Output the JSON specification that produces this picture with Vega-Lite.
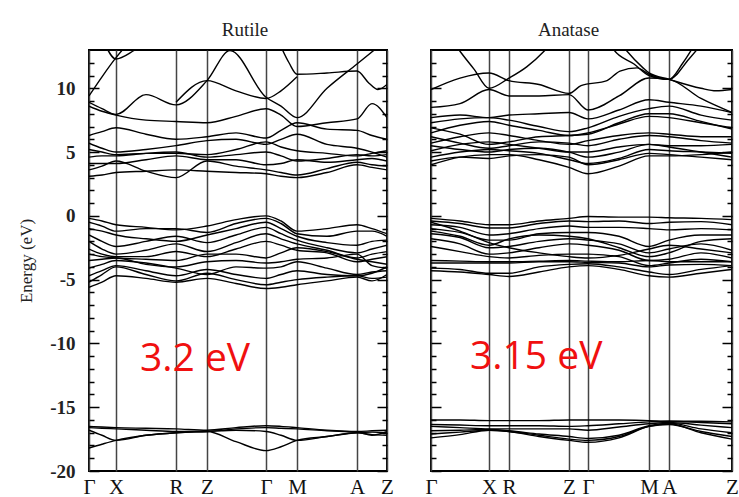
{
"$schema": "https://vega.github.io/schema/vega-lite/v6.json",
"background": "white",
"padding": {"left": 16, "top": 20, "right": 0, "bottom": 0},
"spacing": 28,
"config": {"view": {"stroke": "#000", "strokeWidth": 2}, "font": "Liberation Serif"},
"datasets": {
"rut": [
{"b":"c1","k":0,"e":9.4},{"b":"c1","k":13,"e":10.9},{"b":"c1","k":27,"e":12.4},{"b":"c1","k":40,"e":13.6},
{"b":"c2","k":15,"e":13.6},{"b":"c2","k":27,"e":12.3},{"b":"c2","k":46,"e":13.0},{"b":"c2","k":60,"e":13.6},
{"b":"c3","k":0,"e":8.9},{"b":"c3","k":13,"e":8.4},{"b":"c3","k":27,"e":7.95},{"b":"c3","k":57,"e":9.5},{"b":"c3","k":87,"e":8.7},{"b":"c3","k":118,"e":10.6},{"b":"c3","k":141,"e":12.95},{"b":"c3","k":177,"e":9.3},{"b":"c3","k":192,"e":8.6},{"b":"c3","k":208,"e":7.7},{"b":"c3","k":238,"e":10.0},{"b":"c3","k":268,"e":11.9},{"b":"c3","k":290,"e":13.3},
{"b":"c4","k":190,"e":13.6},{"b":"c4","k":200,"e":12.0},{"b":"c4","k":208,"e":11.1},{"b":"c4","k":238,"e":11.2},{"b":"c4","k":268,"e":11.35},{"b":"c4","k":280,"e":10.4},{"b":"c4","k":289,"e":9.9},{"b":"c4","k":298,"e":10.3},
{"b":"c13","k":87,"e":8.9},{"b":"c13","k":118,"e":10.6},{"b":"c13","k":147,"e":9.8},{"b":"c13","k":177,"e":9.2},{"b":"c13","k":192,"e":9.8},{"b":"c13","k":208,"e":10.9},
{"b":"c5","k":0,"e":8.6},{"b":"c5","k":13,"e":8.2},{"b":"c5","k":27,"e":7.9},{"b":"c5","k":57,"e":7.5},{"b":"c5","k":87,"e":7.4},{"b":"c5","k":118,"e":7.3},{"b":"c5","k":147,"e":7.8},{"b":"c5","k":177,"e":8.4},{"b":"c5","k":192,"e":7.9},{"b":"c5","k":208,"e":7.0},{"b":"c5","k":238,"e":7.3},{"b":"c5","k":268,"e":7.6},{"b":"c5","k":283,"e":8.8},{"b":"c5","k":298,"e":7.7},
{"b":"c6","k":0,"e":6.3},{"b":"c6","k":13,"e":6.6},{"b":"c6","k":27,"e":6.9},{"b":"c6","k":57,"e":6.4},{"b":"c6","k":87,"e":6.0},{"b":"c6","k":118,"e":6.2},{"b":"c6","k":147,"e":6.5},{"b":"c6","k":177,"e":6.1},{"b":"c6","k":192,"e":6.7},{"b":"c6","k":208,"e":7.3},{"b":"c6","k":238,"e":6.8},{"b":"c6","k":268,"e":6.7},{"b":"c6","k":283,"e":6.3},{"b":"c6","k":298,"e":6.0},
{"b":"c7","k":0,"e":5.7},{"b":"c7","k":13,"e":5.3},{"b":"c7","k":27,"e":5.0},{"b":"c7","k":57,"e":5.2},{"b":"c7","k":87,"e":5.5},{"b":"c7","k":118,"e":5.9},{"b":"c7","k":147,"e":6.0},{"b":"c7","k":177,"e":5.6},{"b":"c7","k":192,"e":6.0},{"b":"c7","k":208,"e":6.4},{"b":"c7","k":238,"e":5.6},{"b":"c7","k":268,"e":5.3},{"b":"c7","k":283,"e":5.0},{"b":"c7","k":298,"e":4.6},
{"b":"c8","k":0,"e":5.2},{"b":"c8","k":13,"e":5.0},{"b":"c8","k":27,"e":4.8},{"b":"c8","k":57,"e":4.9},{"b":"c8","k":87,"e":4.9},{"b":"c8","k":118,"e":4.8},{"b":"c8","k":147,"e":5.2},{"b":"c8","k":177,"e":5.8},{"b":"c8","k":192,"e":5.4},{"b":"c8","k":208,"e":5.1},{"b":"c8","k":238,"e":4.9},{"b":"c8","k":268,"e":4.7},{"b":"c8","k":283,"e":4.9},{"b":"c8","k":298,"e":5.1},
{"b":"c9","k":0,"e":4.6},{"b":"c9","k":13,"e":4.7},{"b":"c9","k":27,"e":4.7},{"b":"c9","k":57,"e":4.9},{"b":"c9","k":87,"e":5.0},{"b":"c9","k":118,"e":4.6},{"b":"c9","k":147,"e":4.8},{"b":"c9","k":177,"e":5.0},{"b":"c9","k":192,"e":4.7},{"b":"c9","k":208,"e":4.3},{"b":"c9","k":238,"e":4.5},{"b":"c9","k":268,"e":4.8},{"b":"c9","k":283,"e":4.7},{"b":"c9","k":298,"e":4.8},
{"b":"c10","k":0,"e":4.1},{"b":"c10","k":13,"e":4.1},{"b":"c10","k":27,"e":4.1},{"b":"c10","k":57,"e":4.4},{"b":"c10","k":87,"e":4.7},{"b":"c10","k":118,"e":4.4},{"b":"c10","k":147,"e":4.4},{"b":"c10","k":177,"e":4.0},{"b":"c10","k":192,"e":4.1},{"b":"c10","k":208,"e":4.4},{"b":"c10","k":238,"e":4.2},{"b":"c10","k":268,"e":4.4},{"b":"c10","k":283,"e":4.5},{"b":"c10","k":298,"e":4.3},
{"b":"c11","k":0,"e":3.6},{"b":"c11","k":13,"e":3.9},{"b":"c11","k":27,"e":4.3},{"b":"c11","k":57,"e":3.5},{"b":"c11","k":87,"e":3.0},{"b":"c11","k":118,"e":4.3},{"b":"c11","k":147,"e":3.9},{"b":"c11","k":177,"e":3.6},{"b":"c11","k":192,"e":3.4},{"b":"c11","k":208,"e":3.2},{"b":"c11","k":238,"e":3.7},{"b":"c11","k":268,"e":4.2},{"b":"c11","k":283,"e":4.0},{"b":"c11","k":298,"e":3.9},
{"b":"c12","k":0,"e":3.1},{"b":"c12","k":13,"e":3.2},{"b":"c12","k":27,"e":3.4},{"b":"c12","k":57,"e":3.5},{"b":"c12","k":87,"e":3.6},{"b":"c12","k":118,"e":3.5},{"b":"c12","k":147,"e":3.4},{"b":"c12","k":177,"e":3.3},{"b":"c12","k":192,"e":3.1},{"b":"c12","k":208,"e":3.0},{"b":"c12","k":238,"e":3.4},{"b":"c12","k":268,"e":4.0},{"b":"c12","k":283,"e":3.8},{"b":"c12","k":298,"e":3.6},
{"b":"v1","k":0,"e":-0.2},{"b":"v1","k":13,"e":-0.4},{"b":"v1","k":27,"e":-0.7},{"b":"v1","k":57,"e":-0.9},{"b":"v1","k":87,"e":-1.1},{"b":"v1","k":118,"e":-0.8},{"b":"v1","k":147,"e":-0.3},{"b":"v1","k":177,"e":0.0},{"b":"v1","k":192,"e":-0.4},{"b":"v1","k":208,"e":-1.2},{"b":"v1","k":238,"e":-1.0},{"b":"v1","k":268,"e":-0.7},{"b":"v1","k":283,"e":-1.0},{"b":"v1","k":298,"e":-1.4},
{"b":"v2","k":0,"e":-0.5},{"b":"v2","k":13,"e":-0.8},{"b":"v2","k":27,"e":-1.2},{"b":"v2","k":57,"e":-1.0},{"b":"v2","k":87,"e":-1.0},{"b":"v2","k":118,"e":-1.3},{"b":"v2","k":147,"e":-0.6},{"b":"v2","k":177,"e":-0.2},{"b":"v2","k":192,"e":-0.6},{"b":"v2","k":208,"e":-1.4},{"b":"v2","k":238,"e":-1.6},{"b":"v2","k":268,"e":-1.2},{"b":"v2","k":283,"e":-1.2},{"b":"v2","k":298,"e":-1.6},
{"b":"v3","k":0,"e":-1.0},{"b":"v3","k":13,"e":-1.2},{"b":"v3","k":27,"e":-1.5},{"b":"v3","k":57,"e":-1.8},{"b":"v3","k":87,"e":-2.0},{"b":"v3","k":118,"e":-1.5},{"b":"v3","k":147,"e":-1.0},{"b":"v3","k":177,"e":-0.5},{"b":"v3","k":192,"e":-1.0},{"b":"v3","k":208,"e":-1.6},{"b":"v3","k":238,"e":-2.1},{"b":"v3","k":268,"e":-2.3},{"b":"v3","k":283,"e":-2.0},{"b":"v3","k":298,"e":-1.9},
{"b":"v4","k":0,"e":-1.5},{"b":"v4","k":13,"e":-2.0},{"b":"v4","k":27,"e":-2.4},{"b":"v4","k":57,"e":-2.0},{"b":"v4","k":87,"e":-1.6},{"b":"v4","k":118,"e":-2.1},{"b":"v4","k":147,"e":-1.5},{"b":"v4","k":177,"e":-0.9},{"b":"v4","k":192,"e":-1.4},{"b":"v4","k":208,"e":-1.9},{"b":"v4","k":238,"e":-2.5},{"b":"v4","k":268,"e":-2.9},{"b":"v4","k":283,"e":-2.6},{"b":"v4","k":298,"e":-2.3},
{"b":"v5","k":0,"e":-2.0},{"b":"v5","k":13,"e":-2.6},{"b":"v5","k":27,"e":-3.0},{"b":"v5","k":57,"e":-2.7},{"b":"v5","k":87,"e":-2.2},{"b":"v5","k":118,"e":-2.8},{"b":"v5","k":147,"e":-2.1},{"b":"v5","k":177,"e":-1.4},{"b":"v5","k":192,"e":-1.8},{"b":"v5","k":208,"e":-2.2},{"b":"v5","k":238,"e":-2.7},{"b":"v5","k":268,"e":-3.3},{"b":"v5","k":283,"e":-3.0},{"b":"v5","k":298,"e":-2.8},
{"b":"v6","k":0,"e":-2.6},{"b":"v6","k":13,"e":-3.0},{"b":"v6","k":27,"e":-3.2},{"b":"v6","k":57,"e":-3.2},{"b":"v6","k":87,"e":-2.8},{"b":"v6","k":118,"e":-3.2},{"b":"v6","k":147,"e":-2.6},{"b":"v6","k":177,"e":-2.0},{"b":"v6","k":192,"e":-2.3},{"b":"v6","k":208,"e":-2.7},{"b":"v6","k":238,"e":-2.9},{"b":"v6","k":268,"e":-3.6},{"b":"v6","k":283,"e":-3.4},{"b":"v6","k":298,"e":-3.2},
{"b":"v7","k":0,"e":-3.0},{"b":"v7","k":13,"e":-3.2},{"b":"v7","k":27,"e":-3.3},{"b":"v7","k":57,"e":-3.4},{"b":"v7","k":87,"e":-3.5},{"b":"v7","k":118,"e":-3.0},{"b":"v7","k":147,"e":-3.0},{"b":"v7","k":177,"e":-3.3},{"b":"v7","k":192,"e":-2.9},{"b":"v7","k":208,"e":-2.5},{"b":"v7","k":238,"e":-2.8},{"b":"v7","k":268,"e":-3.4},{"b":"v7","k":283,"e":-3.6},{"b":"v7","k":298,"e":-3.8},
{"b":"v8","k":0,"e":-3.5},{"b":"v8","k":13,"e":-3.4},{"b":"v8","k":27,"e":-3.3},{"b":"v8","k":57,"e":-3.8},{"b":"v8","k":87,"e":-4.0},{"b":"v8","k":118,"e":-3.6},{"b":"v8","k":147,"e":-3.5},{"b":"v8","k":177,"e":-3.7},{"b":"v8","k":192,"e":-3.6},{"b":"v8","k":208,"e":-3.4},{"b":"v8","k":238,"e":-3.3},{"b":"v8","k":268,"e":-3.0},{"b":"v8","k":283,"e":-3.9},{"b":"v8","k":298,"e":-4.1},
{"b":"v9","k":0,"e":-4.1},{"b":"v9","k":13,"e":-3.8},{"b":"v9","k":27,"e":-3.5},{"b":"v9","k":57,"e":-3.7},{"b":"v9","k":87,"e":-4.1},{"b":"v9","k":118,"e":-4.6},{"b":"v9","k":147,"e":-4.0},{"b":"v9","k":177,"e":-4.1},{"b":"v9","k":192,"e":-4.0},{"b":"v9","k":208,"e":-3.6},{"b":"v9","k":238,"e":-4.1},{"b":"v9","k":268,"e":-4.6},{"b":"v9","k":283,"e":-4.4},{"b":"v9","k":298,"e":-4.3},
{"b":"v10","k":0,"e":-4.7},{"b":"v10","k":13,"e":-4.3},{"b":"v10","k":27,"e":-3.9},{"b":"v10","k":57,"e":-4.3},{"b":"v10","k":87,"e":-4.7},{"b":"v10","k":118,"e":-4.2},{"b":"v10","k":147,"e":-4.6},{"b":"v10","k":177,"e":-4.9},{"b":"v10","k":192,"e":-4.6},{"b":"v10","k":208,"e":-4.3},{"b":"v10","k":238,"e":-4.6},{"b":"v10","k":268,"e":-4.7},{"b":"v10","k":283,"e":-4.5},{"b":"v10","k":298,"e":-4.0},
{"b":"v11","k":0,"e":-5.2},{"b":"v11","k":13,"e":-4.6},{"b":"v11","k":27,"e":-4.0},{"b":"v11","k":57,"e":-4.6},{"b":"v11","k":87,"e":-5.1},{"b":"v11","k":118,"e":-4.5},{"b":"v11","k":147,"e":-5.0},{"b":"v11","k":177,"e":-5.4},{"b":"v11","k":192,"e":-5.2},{"b":"v11","k":208,"e":-5.0},{"b":"v11","k":238,"e":-4.8},{"b":"v11","k":268,"e":-4.7},{"b":"v11","k":283,"e":-4.9},{"b":"v11","k":298,"e":-4.8},
{"b":"v12","k":0,"e":-5.6},{"b":"v12","k":13,"e":-5.2},{"b":"v12","k":27,"e":-4.7},{"b":"v12","k":57,"e":-4.9},{"b":"v12","k":87,"e":-5.2},{"b":"v12","k":118,"e":-4.9},{"b":"v12","k":147,"e":-5.3},{"b":"v12","k":177,"e":-5.7},{"b":"v12","k":192,"e":-5.6},{"b":"v12","k":208,"e":-5.4},{"b":"v12","k":238,"e":-5.1},{"b":"v12","k":268,"e":-4.8},{"b":"v12","k":283,"e":-5.1},{"b":"v12","k":298,"e":-4.6},
{"b":"l1","k":0,"e":-16.5},{"b":"l1","k":13,"e":-16.55},{"b":"l1","k":27,"e":-16.6},{"b":"l1","k":57,"e":-16.65},{"b":"l1","k":87,"e":-16.7},{"b":"l1","k":118,"e":-16.8},{"b":"l1","k":147,"e":-16.6},{"b":"l1","k":177,"e":-16.45},{"b":"l1","k":192,"e":-16.5},{"b":"l1","k":208,"e":-16.6},{"b":"l1","k":238,"e":-16.8},{"b":"l1","k":268,"e":-16.9},{"b":"l1","k":283,"e":-16.85},{"b":"l1","k":298,"e":-16.8},
{"b":"l2","k":0,"e":-16.8},{"b":"l2","k":13,"e":-17.2},{"b":"l2","k":27,"e":-17.6},{"b":"l2","k":57,"e":-17.2},{"b":"l2","k":87,"e":-17.0},{"b":"l2","k":118,"e":-16.9},{"b":"l2","k":147,"e":-16.8},{"b":"l2","k":177,"e":-16.9},{"b":"l2","k":192,"e":-17.2},{"b":"l2","k":208,"e":-17.6},{"b":"l2","k":238,"e":-17.3},{"b":"l2","k":268,"e":-17.0},{"b":"l2","k":283,"e":-16.95},{"b":"l2","k":298,"e":-17.0},
{"b":"l3","k":0,"e":-18.2},{"b":"l3","k":13,"e":-17.9},{"b":"l3","k":27,"e":-17.6},{"b":"l3","k":57,"e":-17.2},{"b":"l3","k":87,"e":-17.0},{"b":"l3","k":118,"e":-16.9},{"b":"l3","k":147,"e":-17.7},{"b":"l3","k":177,"e":-18.4},{"b":"l3","k":192,"e":-18.1},{"b":"l3","k":208,"e":-17.6},{"b":"l3","k":238,"e":-17.3},{"b":"l3","k":268,"e":-17.0},{"b":"l3","k":283,"e":-17.15},{"b":"l3","k":298,"e":-17.2},
{"b":"l4","k":0,"e":-16.6},{"b":"l4","k":13,"e":-16.65},{"b":"l4","k":27,"e":-16.7},{"b":"l4","k":57,"e":-16.8},{"b":"l4","k":87,"e":-16.9},{"b":"l4","k":118,"e":-16.9},{"b":"l4","k":147,"e":-16.7},{"b":"l4","k":177,"e":-16.6},{"b":"l4","k":192,"e":-16.65},{"b":"l4","k":208,"e":-16.7},{"b":"l4","k":238,"e":-16.85},{"b":"l4","k":268,"e":-16.95},{"b":"l4","k":283,"e":-17.2},{"b":"l4","k":298,"e":-16.9}
],
"ana": [
{"b":"a1","k":0,"e":4.0},{"b":"a1","k":29,"e":4.6},{"b":"a1","k":58,"e":4.8},{"b":"a1","k":78,"e":4.8},{"b":"a1","k":108,"e":4.4},{"b":"a1","k":138,"e":3.8},{"b":"a1","k":157,"e":3.3},{"b":"a1","k":188,"e":3.9},{"b":"a1","k":218,"e":4.7},{"b":"a1","k":238,"e":4.7},{"b":"a1","k":270,"e":4.8},{"b":"a1","k":301,"e":5.0},
{"b":"a2","k":0,"e":4.3},{"b":"a2","k":29,"e":4.6},{"b":"a2","k":58,"e":4.5},{"b":"a2","k":78,"e":4.7},{"b":"a2","k":108,"e":4.8},{"b":"a2","k":138,"e":4.6},{"b":"a2","k":157,"e":4.0},{"b":"a2","k":188,"e":4.4},{"b":"a2","k":218,"e":4.9},{"b":"a2","k":238,"e":4.8},{"b":"a2","k":270,"e":4.6},{"b":"a2","k":301,"e":4.4},
{"b":"a3","k":0,"e":4.6},{"b":"a3","k":29,"e":5.0},{"b":"a3","k":58,"e":5.2},{"b":"a3","k":78,"e":5.1},{"b":"a3","k":108,"e":4.9},{"b":"a3","k":138,"e":4.4},{"b":"a3","k":157,"e":4.1},{"b":"a3","k":188,"e":4.5},{"b":"a3","k":218,"e":5.2},{"b":"a3","k":238,"e":5.1},{"b":"a3","k":270,"e":5.0},{"b":"a3","k":301,"e":4.9},
{"b":"a4","k":0,"e":5.5},{"b":"a4","k":29,"e":5.2},{"b":"a4","k":58,"e":5.0},{"b":"a4","k":78,"e":5.2},{"b":"a4","k":108,"e":5.3},{"b":"a4","k":138,"e":5.0},{"b":"a4","k":157,"e":4.6},{"b":"a4","k":188,"e":5.0},{"b":"a4","k":218,"e":5.6},{"b":"a4","k":238,"e":5.4},{"b":"a4","k":270,"e":5.0},{"b":"a4","k":301,"e":4.6},
{"b":"a5","k":0,"e":5.1},{"b":"a5","k":29,"e":5.6},{"b":"a5","k":58,"e":5.8},{"b":"a5","k":78,"e":5.6},{"b":"a5","k":108,"e":5.3},{"b":"a5","k":138,"e":5.0},{"b":"a5","k":157,"e":5.0},{"b":"a5","k":188,"e":5.4},{"b":"a5","k":218,"e":5.6},{"b":"a5","k":238,"e":5.5},{"b":"a5","k":270,"e":5.5},{"b":"a5","k":301,"e":5.6},
{"b":"a6","k":0,"e":6.2},{"b":"a6","k":29,"e":5.7},{"b":"a6","k":58,"e":5.3},{"b":"a6","k":78,"e":5.5},{"b":"a6","k":108,"e":5.8},{"b":"a6","k":138,"e":5.7},{"b":"a6","k":157,"e":5.5},{"b":"a6","k":188,"e":6.0},{"b":"a6","k":218,"e":6.3},{"b":"a6","k":238,"e":6.2},{"b":"a6","k":270,"e":5.9},{"b":"a6","k":301,"e":5.7},
{"b":"a7","k":0,"e":5.7},{"b":"a7","k":29,"e":6.2},{"b":"a7","k":58,"e":6.5},{"b":"a7","k":78,"e":6.3},{"b":"a7","k":108,"e":5.9},{"b":"a7","k":138,"e":5.6},{"b":"a7","k":157,"e":5.9},{"b":"a7","k":188,"e":6.3},{"b":"a7","k":218,"e":6.5},{"b":"a7","k":238,"e":6.4},{"b":"a7","k":270,"e":6.2},{"b":"a7","k":301,"e":6.2},
{"b":"a8","k":0,"e":6.9},{"b":"a8","k":29,"e":6.4},{"b":"a8","k":58,"e":5.6},{"b":"a8","k":78,"e":5.8},{"b":"a8","k":108,"e":6.2},{"b":"a8","k":138,"e":6.3},{"b":"a8","k":157,"e":6.4},{"b":"a8","k":188,"e":7.3},{"b":"a8","k":218,"e":8.0},{"b":"a8","k":238,"e":8.0},{"b":"a8","k":270,"e":7.4},{"b":"a8","k":301,"e":6.8},
{"b":"a9","k":0,"e":6.5},{"b":"a9","k":29,"e":7.1},{"b":"a9","k":58,"e":7.4},{"b":"a9","k":78,"e":7.1},{"b":"a9","k":108,"e":6.7},{"b":"a9","k":138,"e":6.3},{"b":"a9","k":157,"e":6.5},{"b":"a9","k":188,"e":7.2},{"b":"a9","k":218,"e":7.8},{"b":"a9","k":238,"e":7.7},{"b":"a9","k":270,"e":7.3},{"b":"a9","k":301,"e":6.9},
{"b":"a10","k":0,"e":7.3},{"b":"a10","k":29,"e":7.6},{"b":"a10","k":58,"e":7.7},{"b":"a10","k":78,"e":7.5},{"b":"a10","k":108,"e":7.0},{"b":"a10","k":138,"e":6.6},{"b":"a10","k":157,"e":6.9},{"b":"a10","k":188,"e":7.8},{"b":"a10","k":218,"e":8.4},{"b":"a10","k":238,"e":8.6},{"b":"a10","k":270,"e":7.9},{"b":"a10","k":301,"e":7.5},
{"b":"a11","k":0,"e":8.5},{"b":"a11","k":29,"e":8.8},{"b":"a11","k":58,"e":9.9},{"b":"a11","k":78,"e":9.4},{"b":"a11","k":108,"e":9.4},{"b":"a11","k":138,"e":9.5},{"b":"a11","k":157,"e":8.3},{"b":"a11","k":188,"e":9.4},{"b":"a11","k":218,"e":10.8},{"b":"a11","k":238,"e":10.7},{"b":"a11","k":270,"e":9.2},{"b":"a11","k":301,"e":8.1},
{"b":"a12","k":0,"e":7.7},{"b":"a12","k":29,"e":7.9},{"b":"a12","k":58,"e":7.7},{"b":"a12","k":78,"e":7.9},{"b":"a12","k":108,"e":8.0},{"b":"a12","k":138,"e":8.1},{"b":"a12","k":157,"e":7.6},{"b":"a12","k":188,"e":8.3},{"b":"a12","k":218,"e":9.1},{"b":"a12","k":238,"e":8.9},{"b":"a12","k":270,"e":8.6},{"b":"a12","k":301,"e":8.1},
{"b":"a13","k":15,"e":14.5},{"b":"a13","k":29,"e":12.9},{"b":"a13","k":43,"e":11.5},{"b":"a13","k":58,"e":10.0},{"b":"a13","k":78,"e":10.8},{"b":"a13","k":96,"e":11.7},{"b":"a13","k":113,"e":12.9},{"b":"a13","k":125,"e":14.0},
{"b":"a14","k":0,"e":9.9},{"b":"a14","k":29,"e":10.8},{"b":"a14","k":58,"e":11.2},{"b":"a14","k":78,"e":10.6},{"b":"a14","k":108,"e":10.3},{"b":"a14","k":138,"e":9.6},{"b":"a14","k":150,"e":10.2},{"b":"a14","k":176,"e":10.6},{"b":"a14","k":189,"e":11.35},{"b":"a14","k":206,"e":11.6},{"b":"a14","k":218,"e":11.1},{"b":"a14","k":238,"e":10.7},{"b":"a14","k":258,"e":12.3},{"b":"a14","k":272,"e":13.6},
{"b":"a15","k":175,"e":14.0},{"b":"a15","k":183,"e":13.0},{"b":"a15","k":203,"e":11.9},{"b":"a15","k":218,"e":11.0},{"b":"a15","k":238,"e":10.7},{"b":"a15","k":252,"e":12.0},{"b":"a15","k":265,"e":13.6},
{"b":"a16","k":185,"e":14.0},{"b":"a16","k":195,"e":13.0},{"b":"a16","k":212,"e":11.6},{"b":"a16","k":218,"e":11.2},{"b":"a16","k":238,"e":10.7},{"b":"a16","k":270,"e":10.0},{"b":"a16","k":285,"e":9.8},{"b":"a16","k":301,"e":9.9},
{"b":"v1","k":0,"e":-0.2},{"b":"v1","k":29,"e":-0.4},{"b":"v1","k":58,"e":-0.7},{"b":"v1","k":78,"e":-0.7},{"b":"v1","k":108,"e":-0.4},{"b":"v1","k":138,"e":-0.2},{"b":"v1","k":157,"e":-0.05},{"b":"v1","k":188,"e":-0.1},{"b":"v1","k":218,"e":-0.1},{"b":"v1","k":238,"e":-0.15},{"b":"v1","k":270,"e":-0.2},{"b":"v1","k":301,"e":-0.3},
{"b":"v2","k":0,"e":-0.4},{"b":"v2","k":29,"e":-0.6},{"b":"v2","k":58,"e":-0.95},{"b":"v2","k":78,"e":-0.95},{"b":"v2","k":108,"e":-0.6},{"b":"v2","k":138,"e":-0.4},{"b":"v2","k":157,"e":-0.45},{"b":"v2","k":188,"e":-0.4},{"b":"v2","k":218,"e":-0.6},{"b":"v2","k":238,"e":-0.5},{"b":"v2","k":270,"e":-0.45},{"b":"v2","k":301,"e":-0.7},
{"b":"v3","k":0,"e":-0.7},{"b":"v3","k":29,"e":-0.9},{"b":"v3","k":58,"e":-1.5},{"b":"v3","k":78,"e":-1.4},{"b":"v3","k":108,"e":-1.0},{"b":"v3","k":138,"e":-0.8},{"b":"v3","k":157,"e":-0.9},{"b":"v3","k":188,"e":-0.9},{"b":"v3","k":218,"e":-1.0},{"b":"v3","k":238,"e":-1.1},{"b":"v3","k":270,"e":-1.0},{"b":"v3","k":301,"e":-1.1},
{"b":"v4","k":0,"e":-1.0},{"b":"v4","k":29,"e":-1.3},{"b":"v4","k":58,"e":-1.9},{"b":"v4","k":78,"e":-1.9},{"b":"v4","k":108,"e":-1.4},{"b":"v4","k":138,"e":-1.3},{"b":"v4","k":157,"e":-1.3},{"b":"v4","k":188,"e":-1.6},{"b":"v4","k":218,"e":-2.4},{"b":"v4","k":238,"e":-1.9},{"b":"v4","k":270,"e":-1.5},{"b":"v4","k":301,"e":-1.5},
{"b":"v5","k":0,"e":-1.4},{"b":"v5","k":29,"e":-1.7},{"b":"v5","k":58,"e":-2.5},{"b":"v5","k":78,"e":-2.4},{"b":"v5","k":108,"e":-2.0},{"b":"v5","k":138,"e":-1.8},{"b":"v5","k":157,"e":-1.9},{"b":"v5","k":188,"e":-2.2},{"b":"v5","k":218,"e":-2.9},{"b":"v5","k":238,"e":-2.6},{"b":"v5","k":270,"e":-2.2},{"b":"v5","k":301,"e":-2.7},
{"b":"v6","k":0,"e":-1.8},{"b":"v6","k":29,"e":-2.2},{"b":"v6","k":58,"e":-3.0},{"b":"v6","k":78,"e":-2.9},{"b":"v6","k":108,"e":-2.5},{"b":"v6","k":138,"e":-2.2},{"b":"v6","k":157,"e":-2.3},{"b":"v6","k":188,"e":-2.7},{"b":"v6","k":218,"e":-3.5},{"b":"v6","k":238,"e":-3.4},{"b":"v6","k":270,"e":-2.9},{"b":"v6","k":301,"e":-3.3},
{"b":"v7","k":0,"e":-2.4},{"b":"v7","k":29,"e":-2.8},{"b":"v7","k":58,"e":-3.2},{"b":"v7","k":78,"e":-3.3},{"b":"v7","k":108,"e":-3.1},{"b":"v7","k":138,"e":-3.0},{"b":"v7","k":157,"e":-3.0},{"b":"v7","k":188,"e":-3.2},{"b":"v7","k":218,"e":-3.9},{"b":"v7","k":238,"e":-3.7},{"b":"v7","k":270,"e":-3.4},{"b":"v7","k":301,"e":-3.6},
{"b":"v8","k":0,"e":-3.5},{"b":"v8","k":29,"e":-3.55},{"b":"v8","k":58,"e":-3.6},{"b":"v8","k":78,"e":-3.6},{"b":"v8","k":108,"e":-3.55},{"b":"v8","k":138,"e":-3.5},{"b":"v8","k":157,"e":-3.55},{"b":"v8","k":188,"e":-3.6},{"b":"v8","k":218,"e":-3.5},{"b":"v8","k":238,"e":-3.6},{"b":"v8","k":270,"e":-3.6},{"b":"v8","k":301,"e":-3.6},
{"b":"v9","k":0,"e":-3.7},{"b":"v9","k":29,"e":-3.7},{"b":"v9","k":58,"e":-3.7},{"b":"v9","k":78,"e":-3.7},{"b":"v9","k":108,"e":-3.6},{"b":"v9","k":138,"e":-3.6},{"b":"v9","k":157,"e":-3.65},{"b":"v9","k":188,"e":-3.7},{"b":"v9","k":218,"e":-4.0},{"b":"v9","k":238,"e":-3.85},{"b":"v9","k":270,"e":-3.8},{"b":"v9","k":301,"e":-3.9},
{"b":"v10","k":0,"e":-4.1},{"b":"v10","k":29,"e":-4.2},{"b":"v10","k":58,"e":-4.5},{"b":"v10","k":78,"e":-4.5},{"b":"v10","k":108,"e":-4.0},{"b":"v10","k":138,"e":-3.8},{"b":"v10","k":157,"e":-3.75},{"b":"v10","k":188,"e":-4.0},{"b":"v10","k":218,"e":-4.4},{"b":"v10","k":238,"e":-4.6},{"b":"v10","k":270,"e":-4.2},{"b":"v10","k":301,"e":-3.9},
{"b":"v11","k":0,"e":-4.3},{"b":"v11","k":29,"e":-4.4},{"b":"v11","k":58,"e":-4.6},{"b":"v11","k":78,"e":-4.75},{"b":"v11","k":108,"e":-4.4},{"b":"v11","k":138,"e":-4.0},{"b":"v11","k":157,"e":-3.9},{"b":"v11","k":188,"e":-4.2},{"b":"v11","k":218,"e":-4.7},{"b":"v11","k":238,"e":-4.8},{"b":"v11","k":270,"e":-4.5},{"b":"v11","k":301,"e":-4.2},
{"b":"v12","k":0,"e":-0.5},{"b":"v12","k":29,"e":-1.2},{"b":"v12","k":58,"e":-2.1},{"b":"v12","k":78,"e":-2.5},{"b":"v12","k":108,"e":-2.9},{"b":"v12","k":138,"e":-3.2},{"b":"v12","k":157,"e":-3.3},{"b":"v12","k":188,"e":-3.1},{"b":"v12","k":218,"e":-2.6},{"b":"v12","k":238,"e":-2.3},{"b":"v12","k":270,"e":-2.6},{"b":"v12","k":301,"e":-2.9},
{"b":"v13","k":0,"e":-1.2},{"b":"v13","k":29,"e":-1.6},{"b":"v13","k":58,"e":-2.3},{"b":"v13","k":78,"e":-1.8},{"b":"v13","k":108,"e":-1.5},{"b":"v13","k":138,"e":-1.6},{"b":"v13","k":157,"e":-1.8},{"b":"v13","k":188,"e":-2.5},{"b":"v13","k":218,"e":-3.2},{"b":"v13","k":238,"e":-2.9},{"b":"v13","k":270,"e":-2.0},{"b":"v13","k":301,"e":-1.8},
{"b":"l1","k":0,"e":-16.0},{"b":"l1","k":29,"e":-16.0},{"b":"l1","k":58,"e":-16.05},{"b":"l1","k":78,"e":-16.05},{"b":"l1","k":108,"e":-16.05},{"b":"l1","k":138,"e":-16.0},{"b":"l1","k":157,"e":-16.0},{"b":"l1","k":188,"e":-16.0},{"b":"l1","k":218,"e":-16.05},{"b":"l1","k":238,"e":-16.1},{"b":"l1","k":270,"e":-16.1},{"b":"l1","k":301,"e":-16.15},
{"b":"l2","k":0,"e":-16.35},{"b":"l2","k":29,"e":-16.4},{"b":"l2","k":58,"e":-16.45},{"b":"l2","k":78,"e":-16.45},{"b":"l2","k":108,"e":-16.45},{"b":"l2","k":138,"e":-16.5},{"b":"l2","k":157,"e":-16.45},{"b":"l2","k":188,"e":-16.3},{"b":"l2","k":218,"e":-16.15},{"b":"l2","k":238,"e":-16.1},{"b":"l2","k":270,"e":-16.2},{"b":"l2","k":301,"e":-16.3},
{"b":"l3","k":0,"e":-16.5},{"b":"l3","k":29,"e":-16.6},{"b":"l3","k":58,"e":-16.7},{"b":"l3","k":78,"e":-16.7},{"b":"l3","k":108,"e":-16.7},{"b":"l3","k":138,"e":-16.7},{"b":"l3","k":157,"e":-16.8},{"b":"l3","k":188,"e":-16.55},{"b":"l3","k":218,"e":-16.3},{"b":"l3","k":238,"e":-16.2},{"b":"l3","k":270,"e":-16.4},{"b":"l3","k":301,"e":-16.6},
{"b":"l4","k":0,"e":-16.85},{"b":"l4","k":29,"e":-16.8},{"b":"l4","k":58,"e":-16.75},{"b":"l4","k":78,"e":-16.85},{"b":"l4","k":108,"e":-17.1},{"b":"l4","k":138,"e":-17.3},{"b":"l4","k":157,"e":-17.45},{"b":"l4","k":188,"e":-17.2},{"b":"l4","k":218,"e":-16.45},{"b":"l4","k":238,"e":-16.25},{"b":"l4","k":270,"e":-16.7},{"b":"l4","k":301,"e":-17.0},
{"b":"l5","k":0,"e":-17.1},{"b":"l5","k":29,"e":-16.95},{"b":"l5","k":58,"e":-16.8},{"b":"l5","k":78,"e":-16.9},{"b":"l5","k":108,"e":-17.3},{"b":"l5","k":138,"e":-17.6},{"b":"l5","k":157,"e":-17.75},{"b":"l5","k":188,"e":-17.4},{"b":"l5","k":218,"e":-16.5},{"b":"l5","k":238,"e":-16.3},{"b":"l5","k":270,"e":-17.0},{"b":"l5","k":301,"e":-17.5},
{"b":"l6","k":0,"e":-17.4},{"b":"l6","k":29,"e":-17.15},{"b":"l6","k":58,"e":-16.8},{"b":"l6","k":78,"e":-16.9},{"b":"l6","k":108,"e":-17.2},{"b":"l6","k":138,"e":-17.5},{"b":"l6","k":157,"e":-17.6},{"b":"l6","k":188,"e":-17.3},{"b":"l6","k":218,"e":-16.5},{"b":"l6","k":238,"e":-16.35},{"b":"l6","k":270,"e":-16.9},{"b":"l6","k":301,"e":-17.3}
],
"labR": [{"k":51,"e":-12.2,"t":"3.2 eV"}],
"labA": [{"k":39,"e":-12.0,"t":"3.15 eV"}]
},
"hconcat": [
{
"width": 298, "height": 421,
"title": {"text": "Rutile", "font": "Liberation Serif", "fontSize": 19, "fontWeight": "normal", "color": "#222", "offset": 10, "frame": "group", "dx": 7},
"layer": [
{
"data": {"name": "rut"},
"mark": {"type": "line", "interpolate": "monotone", "clip": true, "stroke": "#000", "strokeWidth": 1.4},
"encoding": {
"x": {"field": "k", "type": "quantitative", "scale": {"domain": [0, 298], "nice": false, "zero": false},
"axis": {"orient": "bottom", "values": [0, 27, 87, 118, 177, 208, 268, 298], "labelExpr": "datum.value == 0 ? 'Γ' : datum.value == 27 ? 'X' : datum.value == 87 ? 'R' : datum.value == 118 ? 'Z' : datum.value == 177 ? 'Γ' : datum.value == 208 ? 'M' : datum.value == 268 ? 'A' : 'Z'", "labelFont": "Liberation Serif", "labelFontSize": 21, "labelColor": "#111", "labelPadding": 5, "labelFlush": false, "labelOverlap": false, "labelBound": false, "ticks": false, "domain": false, "grid": true, "gridColor": "#444", "gridWidth": 1.5, "gridOpacity": 1, "title": null}},
"y": {"field": "e", "type": "quantitative", "scale": {"domain": [-20, 13], "nice": false, "zero": false},
"axis": {"orient": "left", "values": [-20,-19,-18,-17,-16,-15,-14,-13,-12,-11,-10,-9,-8,-7,-6,-5,-4,-3,-2,-1,0,1,2,3,4,5,6,7,8,9,10,11,12], "labelExpr": "datum.value % 5 === 0 ? '' + datum.value : ''", "labelFont": "Liberation Serif", "labelFontSize": 19, "labelFontWeight": "bold", "labelColor": "#222", "labelPadding": 24, "labelFlush": false, "labelOverlap": false, "tickSize": {"condition": {"test": "datum.value % 5 === 0", "value": -10}, "value": -5}, "tickColor": "#000", "tickWidth": 1.5, "domain": false, "grid": false, "title": "Energy (eV)", "titleFont": "Liberation Serif", "titleFontSize": 17, "titleFontWeight": "normal", "titleColor": "#222", "titlePadding": 14}},
"detail": {"field": "b", "type": "nominal"}
}
},
{
"data": {"name": "labR"},
"mark": {"type": "text", "align": "left", "baseline": "alphabetic", "font": "Open Sans", "fontSize": 39, "color": "#f01010"},
"encoding": {
"x": {"field": "k", "type": "quantitative"},
"y": {"field": "e", "type": "quantitative", "axis": {"orient": "right", "values": [-20,-19,-18,-17,-16,-15,-14,-13,-12,-11,-10,-9,-8,-7,-6,-5,-4,-3,-2,-1,0,1,2,3,4,5,6,7,8,9,10,11,12], "labels": false, "tickSize": {"condition": {"test": "datum.value % 5 === 0", "value": -10}, "value": -5}, "tickColor": "#000", "tickWidth": 1.5, "domain": false, "grid": false, "title": null}},
"text": {"field": "t", "type": "nominal"}
}
}
],
"resolve": {"axis": {"y": "independent"}}
},
{
"width": 301, "height": 421,
"title": {"text": "Anatase", "font": "Liberation Serif", "fontSize": 19, "fontWeight": "normal", "color": "#222", "offset": 10, "frame": "group", "dx": -13},
"layer": [
{
"data": {"name": "ana"},
"mark": {"type": "line", "interpolate": "monotone", "clip": true, "stroke": "#000", "strokeWidth": 1.4},
"encoding": {
"x": {"field": "k", "type": "quantitative", "scale": {"domain": [0, 301], "nice": false, "zero": false},
"axis": {"orient": "bottom", "values": [0, 58, 78, 138, 157, 218, 238, 301], "labelExpr": "datum.value == 0 ? 'Γ' : datum.value == 58 ? 'X' : datum.value == 78 ? 'R' : datum.value == 138 ? 'Z' : datum.value == 157 ? 'Γ' : datum.value == 218 ? 'M' : datum.value == 238 ? 'A' : 'Z'", "labelFont": "Liberation Serif", "labelFontSize": 21, "labelColor": "#111", "labelPadding": 5, "labelFlush": false, "labelOverlap": false, "labelBound": false, "ticks": false, "domain": false, "grid": true, "gridColor": "#444", "gridWidth": 1.5, "gridOpacity": 1, "title": null}},
"y": {"field": "e", "type": "quantitative", "scale": {"domain": [-20, 13], "nice": false, "zero": false},
"axis": {"orient": "left", "values": [-20,-19,-18,-17,-16,-15,-14,-13,-12,-11,-10,-9,-8,-7,-6,-5,-4,-3,-2,-1,0,1,2,3,4,5,6,7,8,9,10,11,12], "labels": false, "tickSize": {"condition": {"test": "datum.value % 5 === 0", "value": -10}, "value": -5}, "tickColor": "#000", "tickWidth": 1.5, "domain": false, "grid": false, "title": null}},
"detail": {"field": "b", "type": "nominal"}
}
},
{
"data": {"name": "labA"},
"mark": {"type": "text", "align": "left", "baseline": "alphabetic", "font": "Open Sans", "fontSize": 39, "color": "#f01010"},
"encoding": {
"x": {"field": "k", "type": "quantitative"},
"y": {"field": "e", "type": "quantitative", "axis": {"orient": "right", "values": [-20,-19,-18,-17,-16,-15,-14,-13,-12,-11,-10,-9,-8,-7,-6,-5,-4,-3,-2,-1,0,1,2,3,4,5,6,7,8,9,10,11,12], "labels": false, "tickSize": {"condition": {"test": "datum.value % 5 === 0", "value": -10}, "value": -5}, "tickColor": "#000", "tickWidth": 1.5, "domain": false, "grid": false, "title": null}},
"text": {"field": "t", "type": "nominal"}
}
}
],
"resolve": {"axis": {"y": "independent"}}
}
]
}
